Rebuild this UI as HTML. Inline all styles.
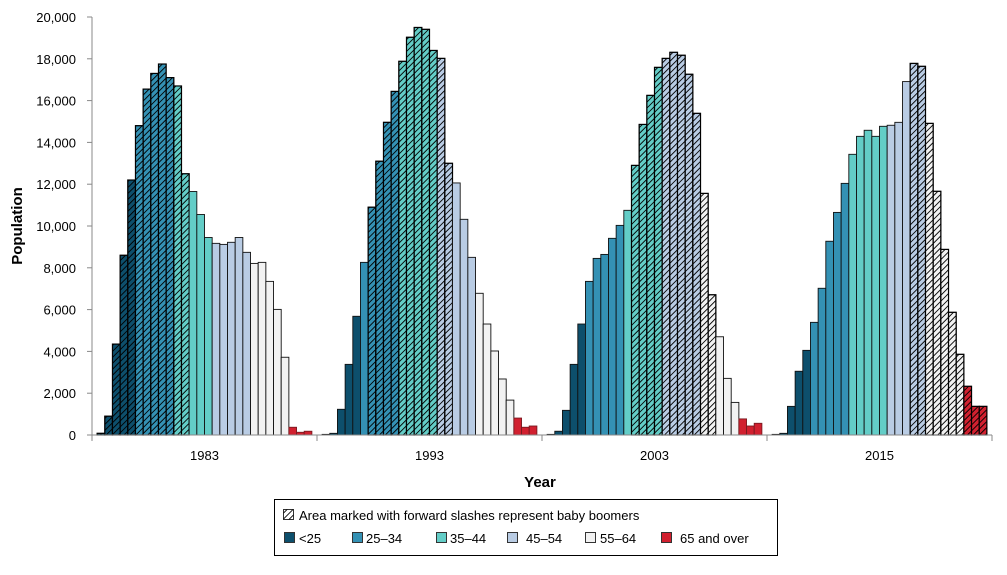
<!DOCTYPE html>
<html><head><meta charset="utf-8"><style>
body{margin:0;background:#fff;}
svg text{font-family:"Liberation Sans",sans-serif;}
</style></head><body>
<svg id="chart" width="1007" height="570" xmlns="http://www.w3.org/2000/svg">
<defs>
<pattern id="hatch" patternUnits="userSpaceOnUse" width="4.2" height="4.2" patternTransform="rotate(45)">
<rect width="4.2" height="4.2" fill="transparent"/>
<line x1="0" y1="0" x2="0" y2="4.2" stroke="#000" stroke-width="1.8"/>
</pattern>
</defs>
<g id="grid"></g>
<g id="bars"></g>
<g id="axes"></g>
</svg>
<script>
const years = ["1983","1993","2003","2015"];
const v1983 = [0.08,0.9,4.35,8.6,12.2,14.8,16.55,17.3,17.75,17.1,16.7,12.5,11.65,10.55,9.45,9.17,9.12,9.22,9.45,8.74,8.21,8.26,7.35,6.01,3.72,0.37,0.13,0.18];
const v1993 = [0.03,0.08,1.23,3.38,5.68,8.26,10.9,13.1,14.96,16.44,17.88,19.03,19.5,19.41,18.4,18.02,13.0,12.06,10.32,8.5,6.78,5.31,4.02,2.68,1.67,0.81,0.37,0.43];
const v2003 = [0.03,0.18,1.18,3.38,5.31,7.35,8.45,8.64,9.41,10.03,10.75,12.9,14.86,16.25,17.59,18.02,18.31,18.17,17.26,15.39,11.56,6.71,4.7,2.71,1.56,0.77,0.43,0.56];
const v2015 = [0.03,0.08,1.37,3.05,4.05,5.39,7.02,9.27,10.65,12.04,13.43,14.29,14.58,14.29,14.77,14.82,14.96,16.91,17.78,17.64,14.91,11.66,8.88,5.87,3.86,2.33,1.37,1.37];
const boomerRange = [[0,11],[6,16],[11,21],[18,27]];
const groupNames = ["<25","25–34","35–44","45–54","55–64","65 and over"];
const groupColors = ["#0d4f6c","#3491b4","#63cdc7","#b9cce4","#f2f2f2","#d1202f"];
const groupStart = [0,5,10,15,20,25];
const yTicks = [0,2000,4000,6000,8000,10000,12000,14000,16000,18000,20000];
const series = [v1983,v1993,v2003,v2015];

const NS="http://www.w3.org/2000/svg";
const X0=92,X1=992,Y0=435,Y1=17,YMAX=20000;
const catW=(X1-X0)/years.length, nBars=28, barW=7.67, pad=(catW-nBars*barW)/2;
const y=v=>Y0-(v/YMAX)*(Y0-Y1);
function el(t,a,p){const e=document.createElementNS(NS,t);for(const k in a)e.setAttribute(k,a[k]);p.appendChild(e);return e;}
const bars=document.getElementById('bars'),axes=document.getElementById('axes');
function groupOf(i){let g=0;for(let k=0;k<groupStart.length;k++)if(i>=groupStart[k])g=k;return g;}
series.forEach((vals,gi)=>{
  vals.forEach((vk,i)=>{
    const v=vk*1000;
    const x=X0+gi*catW+pad+i*barW, top=y(v);
    const g=groupOf(i);
    const r=el('rect',{x:x,y:top,width:barW,height:Y0-top,fill:groupColors[g],stroke:g===5?'#7a1a20':'#111','stroke-width':0.9},bars);
    
    
    if(i>=boomerRange[gi][0]&&i<=boomerRange[gi][1]){
      const h=el('rect',{x:x,y:top,width:barW,height:Y0-top,fill:'url(#hatch)',stroke:'#000','stroke-width':1.2},bars);
      
      
    }
  });
});
const ya=el('line',{x1:X0,y1:Y1,x2:X0,y2:Y0,stroke:'#888'},axes);

const xa=el('line',{x1:X0,y1:Y0,x2:X1,y2:Y0,stroke:'#888'},axes);

yTicks.forEach(t=>{
  el('line',{x1:X0-5,y1:y(t),x2:X0,y2:y(t),stroke:'#888'},axes);
  const tx=el('text',{x:X0-16,y:y(t)+5,'text-anchor':'end','font-size':13,fill:'#000'},axes);
  tx.textContent=t.toLocaleString('en-US');
  
});
years.forEach((yr,i)=>{
  el('line',{x1:X0+i*catW,y1:Y0,x2:X0+i*catW,y2:Y0+6,stroke:'#888'},axes);
  const tx=el('text',{x:X0+(i+0.5)*catW,y:460,'text-anchor':'middle','font-size':13},axes);
  tx.textContent=yr;
  
});
el('line',{x1:X1,y1:Y0,x2:X1,y2:Y0+6,stroke:'#888'},axes);
const xt=el('text',{x:540,y:487,'text-anchor':'middle','font-size':15,'font-weight':'bold'},axes);
xt.textContent='Year';
const yt=el('text',{x:0,y:0,'text-anchor':'middle','font-size':15,'font-weight':'bold',transform:'translate(22,226) rotate(-90)'},axes);
yt.textContent='Population';
const lg=el('g',{},axes);
el('rect',{x:274.5,y:499.5,width:503,height:56,fill:'#fff',stroke:'#000'},lg);
el('rect',{x:283.5,y:509.5,width:10,height:10,fill:'#fff',stroke:'#333'},lg);
el('rect',{x:283.5,y:509.5,width:10,height:10,fill:'url(#hatch)'},lg);
const lt=el('text',{x:299,y:520,'font-size':13},lg);lt.textContent='Area marked with forward slashes represent baby boomers';

const lx=[284,352,436,507,585,661], tx0=[299,366,450,526,600,680];
groupNames.forEach((n,i)=>{
  el('rect',{x:lx[i]+0.5,y:532.5,width:10,height:10,fill:groupColors[i],stroke:'#333'},lg);
  const t=el('text',{x:tx0[i],y:543,'font-size':13},lg);t.textContent=n;
  
});
</script>
</body></html>
